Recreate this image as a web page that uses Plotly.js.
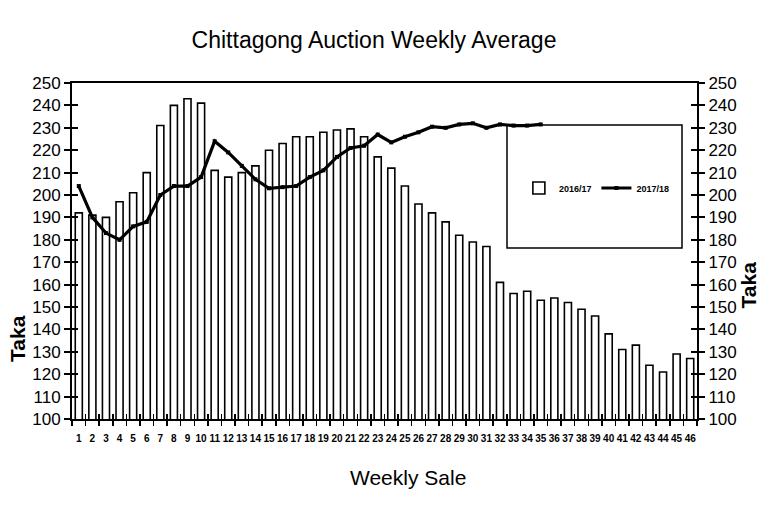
<!DOCTYPE html>
<html>
<head>
<meta charset="utf-8">
<script src="https://cdn.plot.ly/plotly-3.0.1.min.js"></script>
<style>html,body{margin:0;padding:0;background:#fff;}#chart{width:768px;height:512px;}</style>
</head>
<body>
<div id="chart"></div>
<script>
// ---- data ----
const weeks = ["1","2","3","4","5","6","7","8","9","10","11","12","13","14","15","16","17","18","19","20","21","22","23","24","25","26","27","28","29","30","31","32","33","34","35","36","37","38","39","40","41","42","43","44","45","46"];
const season2016 = [192, 191, 190, 197, 201, 210, 231, 240, 243, 241, 211, 208, 210, 213, 220, 223, 226, 226, 228, 229, 229.5, 226, 217, 212, 204, 196, 192, 188, 182, 179, 177, 161, 156, 157, 153, 154, 152, 149, 146, 138, 131, 133, 124, 121, 129, 127];
const season2017 = [204, 190, 183, 180, 186, 188, 200, 204, 204, 208, 224, 219, 213, 207, 203, 203.5, 204, 208, 211, 217, 221, 222, 227, 223.5, 226, 228, 230.5, 230, 231.5, 232, 230, 231.5, 231, 231, 231.5];
const weeks2017 = weeks.slice(0, season2017.length);
const seriesNames = ["2016/17", "2017/18"];
const yTicks = [100,110,120,130,140,150,160,170,180,190,200,210,220,230,240,250];

const FONT = '"Liberation Sans", Arial, sans-serif';

const traces = [
  {type:'bar', name:seriesNames[0], x:weeks, y:season2016, xaxis:'x', yaxis:'y',
   marker:{color:'#ffffff', line:{color:'#000000', width:1.6}}, hoverinfo:'x+y'},
  {type:'scatter', mode:'lines+markers', name:seriesNames[1], x:weeks2017, y:season2017, xaxis:'x', yaxis:'y2',
   line:{color:'#000000', width:3.2}, marker:{symbol:'square', size:4, color:'#000'}},
  // invisible helpers so the crossing tick marks get drawn
  {type:'scatter', mode:'none', x:weeks, y:season2016, xaxis:'x2', yaxis:'y3', showlegend:false, hoverinfo:'skip'},
  {type:'scatter', mode:'none', x:weeks, y:season2016, xaxis:'x', yaxis:'y4', showlegend:false, hoverinfo:'skip'}
];

const yCommon = {range:[100,250], tickvals:yTicks, showgrid:false, zeroline:false, fixedrange:true};
const xCommon = {type:'category', categoryorder:'array', categoryarray:weeks, range:[-0.5,45.5], showgrid:false, zeroline:false, tickson:'boundaries', dtick:1, tickangle:0};

const layout = {
  width:768, height:512,
  margin:{l:72, r:71, t:83, b:93},
  paper_bgcolor:'#fff', plot_bgcolor:'#fff',
  font:{family:FONT, color:'#000'},
  bargap:0.48,
  title:{text:'Chittagong Auction Weekly Average', font:{family:FONT, size:23, color:'#000'}, x:0.487, xanchor:'center', y:0.922, yanchor:'middle', yref:'container'},
  xaxis:Object.assign({}, xCommon, {anchor:'y', showline:true, linecolor:'#000', linewidth:2, mirror:true,
    ticks:'outside', ticklen:5, tickwidth:1.5, tickcolor:'#000', ticklabelstandoff:9,
    tickfont:{family:FONT, size:10, color:'#000', weight:'bold'}}),
  xaxis2:Object.assign({}, xCommon, {overlaying:'x', anchor:'y', side:'bottom', showline:false,
    ticks:'inside', ticklen:5, tickwidth:1.5, tickcolor:'#000', showticklabels:false}),
  yaxis:Object.assign({}, yCommon, {anchor:'x', side:'left', showline:true, linecolor:'#000', linewidth:2,
    ticks:'outside', ticklen:6, tickwidth:2, tickcolor:'#000', tickfont:{family:FONT, size:17, color:'#000'}}),
  yaxis2:Object.assign({}, yCommon, {overlaying:'y', anchor:'x', side:'right', showline:true, linecolor:'#000', linewidth:2,
    ticks:'outside', ticklen:6, tickwidth:2, tickcolor:'#000', tickfont:{family:FONT, size:17, color:'#000'}}),
  yaxis3:Object.assign({}, yCommon, {overlaying:'y', anchor:'x2', side:'left', showline:false,
    ticks:'inside', ticklen:6, tickwidth:2, tickcolor:'#000', showticklabels:false}),
  yaxis4:Object.assign({}, yCommon, {overlaying:'y', anchor:'x', side:'right', showline:false,
    ticks:'inside', ticklen:6, tickwidth:2, tickcolor:'#000', showticklabels:false}),
  showlegend:true,
  legend:{orientation:'h', x:0.715, xanchor:'left', y:0.6875, yanchor:'middle', bgcolor:'rgba(0,0,0,0)',
    font:{family:FONT, size:9, color:'#000', weight:'bold'}, itemwidth:30, tracegroupgap:0},
  shapes:[
    {type:'rect', xref:'paper', yref:'paper', x0:0.696, x1:0.976, y0:0.509, y1:0.875,
     line:{color:'#000', width:1.5}, fillcolor:'rgba(255,255,255,0)', layer:'above'}
  ],
  annotations:[
    {text:'<b>Taka</b>', xref:'paper', yref:'paper', x:-0.087, y:0.24, textangle:-90, showarrow:false,
     font:{family:FONT, size:21, color:'#000'}, xanchor:'center', yanchor:'middle'},
    {text:'<b>Taka</b>', xref:'paper', yref:'paper', x:1.083, y:0.40, textangle:-90, showarrow:false,
     font:{family:FONT, size:21, color:'#000'}, xanchor:'center', yanchor:'middle'},
    {text:'Weekly Sale', xref:'paper', yref:'paper', x:0.538, y:-0.175, showarrow:false,
     font:{family:FONT, size:21, color:'#000'}, xanchor:'center', yanchor:'middle'}
  ]
};

Plotly.newPlot('chart', traces, layout, {staticPlot:true, displayModeBar:false});
</script>
</body>
</html>
